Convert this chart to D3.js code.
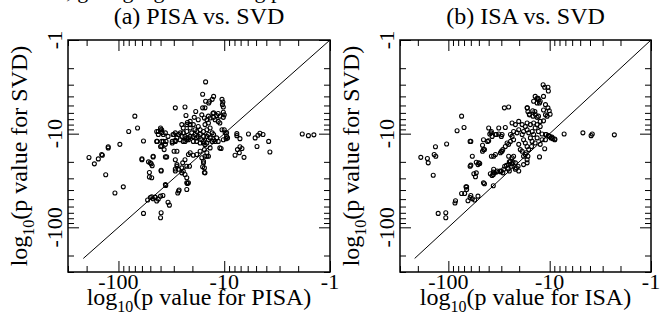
<!DOCTYPE html>
<html>
<head>
<meta charset="utf-8">
<script src="https://cdn.jsdelivr.net/npm/d3@7"></script>
<style>
  body { margin: 0; background: #fff; }
  svg { display: block; }
  text { font-family: "Liberation Serif", "Times New Roman", "DejaVu Serif", serif; fill: #000; }
</style>
</head>
<body>
<svg id="chart" width="672" height="327"></svg>
<script>
// chart values
const titles = ["(a) PISA vs. SVD", "(b) ISA vs. SVD"];
const methods = ["PISA", "ISA"];
const reference = "SVD";
const majorTicks = [-100, -10, -1];
const tickLabels = ["-100", "-10", "-1"];
const axisDomain = [-300, -1];
const diagonal = [-215, -1];
const captionText = "values, giving significant log p values for each of the modules";

// [log10 p for PISA, log10 p for SVD]
const pisaVsSvd = [
  [-15,-2.8],[-16,-3.8],[-12.6,-4.0],[-13,-4.3],[-13.8,-4.5],[-14,-4.7],[-15,-4.5],[-10.5,-4.3],[-10.3,-4.6],
  [-10.4,-4.9],[-10.2,-5.2],[-18.6,-5.8],[-16,-5.3],[-15.2,-5.3],[-12.6,-6.0],[-11.8,-6.4],[-10.2,-5.9],[-10,-6.3],
  [-29,-5.3],[-23.5,-5.2],[-70,-6.5],[-80,-9.5],[-66,-8.7],[-190,-18],[-169,-21],[-155,-18.6],[-142,-17],[-144,-16.7],
  [-125,-13.8],[-125,-14.2],[-97,-13],[-132,-27.5],[-90,-37],[-108,-43],[-60,-19],[-58,-12],[-52,-20],[-49,-21],
  [-48,-22],[-51,-26],[-51,-29],[-47,-17.7],[-39.5,-24.6],[-43.5,-9.5],[-40,-9.1],[-42,-10.2],[-39,-9.7],[-37.7,-10.2],
  [-43.5,-12.1],[-39,-12.1],[-35.5,-12.1],[-40,-13.7],[-37,-14.8],[-36,-17.7],[-35,-17.7],[-31,-12.1],[-29,-11.8],
  [-27,-10.2],[-26,-9.8],[-25,-10.7],[-28,-15.4],[-23.5,-12.1],[-22.6,-11.6],[-21.8,-11.1],[-23,-6.4],[-22.3,-7.6],
  [-22.6,-29.6],[-21.8,-33.5],[-22.6,-39.5],[-27,-41],[-36,-35],[-50,-48],[-45,-47.6],[-40,-46.5],[-38,-45.7],
  [-53,-51],[-48.5,-47.3],[-47,-49.6],[-45,-48],[-43.5,-52.4],[-42,-50],[-58,-71],[-39.5,-70],[-40,-79],[-34,-54],
  [-33,-58],[-35.7,-35.7],[-27.5,-43],[-26.7,-40],[-22.3,-34],
  [-7.6,-10],[-7.6,-10.5],[-7.1,-11.3],[-5.9,-10.1],[-5.1,-11.1],[-4.8,-10.4],[-4.6,-9.9],[-4.3,-10.2],[-3.8,-12.1],
  [-4.9,-13.7],[-3.7,-15.7],[-7.1,-13.8],[-6.8,-14.4],[-7.5,-14.8],[-7.2,-16],[-7.9,-17],[-6.5,-17.9],[-10.7,-14.4],
  [-1.83,-10.1],[-1.6,-10.5],[-1.42,-10.3],[-10,-9.1],[-9.5,-9.8],[-9.3,-11.1],[-9.6,-11.3],[-15.7,-19.7],[-16,-22.6],
  [-15.4,-26],[-14.6,-17.4],[-15.2,-17.4],[-40,-8.7],[-39,-9.1],[-42,-9.5],[-43,-12.1],[-37.7,-12.1],[-36,-13],
  [-39,-13.6],[-47,-17.4],[-50,-20.5],[-48.5,-29.6],
  [-15.4,-6.8],[-14.1,-6.5],[-12.8,-6.1],[-12.6,-6.7],[-11.4,-6.1],[-11,-6.5],[-10.2,-6.7],[-11.4,-7.4],[-11,-7.7],
  [-12.2,-7.1],[-13.6,-6.8],[-14.6,-7.1],[-17.6,-7.1],[-19.2,-6.7],[-16.3,-6.3],[-21,-7.4],
  [-22.6,-8.0],[-21,-8.7],[-20.3,-9.8],[-19.6,-10.7],[-18.2,-11.1],[-16.9,-10.2],[-15.7,-9.5],[-14.6,-9.1],[-13.6,-8.7],
  [-13,-9.8],[-12.6,-10.2],[-11.8,-11.1],[-11.4,-12.1],[-12.2,-12.1],[-14.1,-11.6],[-15.7,-12.1],[-16.9,-12.6],
  [-18.2,-12.1],[-19.6,-12.1],[-21.8,-11.6],[-23.5,-10.7],[-24.4,-9.8],[-22.6,-9.5],[-18.9,-9.1],[-17.6,-8.4],
  [-15.2,-8.0],[-14.1,-7.7],[-24.4,-8.7],[-25.2,-8.0],[-21,-8.0],[-19.6,-8.0],[-18.2,-9.5],[-16.9,-9.1],[-15.7,-10.7],
  [-14.6,-10.7],[-14.1,-10.2],[-13.6,-11.1],[-12.6,-11.6],[-13,-12.1],[-14.6,-12.6],[-15.2,-13.1],[-16.3,-11.6],
  [-17.6,-10.7],[-18.9,-10.2],[-21,-10.7],[-22.6,-11.1],[-24.4,-12.1],[-26.2,-11.6],[-28,-11.1],[-27,-10.2],[-30,-10.2],
  [-31,-12.6],[-29,-12.1],[-30.5,-10.2],[-29,-9.8],[-34,-10.7],[-36,-9.8],[-29,-19],[-28,-21.4],[-27,-24],
  [-29,-25],[-25.2,-23.2],[-24.7,-20.5],[-23.5,-19],[-21.8,-16.7],[-21,-16],[-19.6,-17],[-18.2,-16.7],[-16.9,-15.4],
  [-16.3,-18.1],[-15.7,-20.5],[-15.4,-23.2],[-15.2,-26.2],[-24.4,-25],[-25.2,-26.2],[-23.5,-27.3],[-22.6,-33.5],
  [-39.5,-25],[-10.5,-9.1],[-9.8,-9.8],[-9.5,-10.7],[-10.2,-11.6],[-11,-14.2],[-29.8,-15.4],[-29,-23.8],[-28,-22.3],
  [-22.6,-22.3],[-21.3,-22.3],[-15.7,-12.6],[-15.4,-14.8],[-14.6,-16],[-14.1,-17.4],[-13.6,-14.2],[-60,-18.6]
];

// [log10 p for ISA, log10 p for SVD]
const isaVsSvd = [
  [-11.6,-3.0],[-11.2,-3.2],[-10.4,-3.2],[-10.3,-3.5],[-13.9,-4.0],[-13.3,-4.2],[-12.9,-4.35],[-14.4,-4.5],[-13.3,-4.7],
  [-12.4,-4.5],[-11.5,-4.0],[-11,-4.9],[-10.4,-5.3],[-10.1,-5.7],[-11.5,-5.6],[-11,-6.3],[-9.9,-6.2],[-10.6,-6.5],
  [-16.7,-5.3],[-14.7,-5.7],[-15.9,-6.2],[-13.9,-6.2],[-13.3,-6.7],[-12.9,-6.5],[-28,-5.3],[-25.4,-5.2],[-74,-6.5],
  [-82,-9.3],[-70,-8.6],[-60,-12.1],[-187,-17.9],[-161,-18.4],[-158,-20.5],[-138,-16.7],[-133,-17.4],[-134,-13.8],
  [-104,-12.9],[-141,-27.8],[-66,-37],[-58,-17.4],[-61,-22.3],[-53,-20.2],[-51,-21.4],[-49,-20.8],[-53,-26.2],
  [-54,-28.9],[-44,-34.3],[-126,-71],[-106,-70],[-106,-79],[-86,-55],[-85,-52],[-74,-43.5],[-69,-43.5],[-66,-39.4],
  [-67,-37],[-64,-52],[-61,-48],[-60,-45.7],[-58,-49.6],[-55,-51],[-51,-46.5],[-36,-36],[-7.2,-10.1],[-4.7,-9.8],
  [-3.8,-10.1],[-3.9,-10.5],[-2.3,-10.3],[-11.2,-14.5],[-12.6,-17.7],[-9.3,-11.3],[-8.9,-11.4],
  [-40,-8.7],[-37.6,-9.5],[-39,-10.1],[-37,-10.7],[-34.3,-10.2],[-31.8,-10.1],[-29.5,-10.2],[-31.8,-8.7],[-27.4,-8.6],
  [-23.5,-7.7],[-21.8,-8.0],[-20.2,-7.4],[-18.7,-8.0],[-17.4,-8.4],[-16.7,-7.7],[-15.5,-8.0],[-14.4,-7.7],[-13.3,-8.0],
  [-12.4,-7.4],[-11.5,-7.3],[-12.4,-8.4],[-13.9,-8.7],[-14.9,-9.5],[-16.1,-9.8],[-16.7,-9.1],[-18.1,-9.5],[-20.2,-9.1],
  [-21,-9.8],[-22.7,-9.5],[-23.5,-10.7],[-24.4,-10.2],[-18.7,-10.2],[-18.1,-11.6],[-17.4,-12.6],[-16.7,-13.7],
  [-16.1,-14.8],[-17.1,-16],[-16.4,-17.4],[-15.5,-11.1],[-14.9,-12.1],[-15.1,-13.7],[-14.4,-10.2],[-13.3,-11.1],
  [-13.9,-12.6],[-12.9,-9.5],[-11.9,-10.1],[-11,-10.2],[-10.3,-10.5],[-9.5,-10.9],[-8.9,-11.6],[-11,-11.6],[-12.4,-13],
  [-11.9,-11.6],[-20.2,-13],[-19.5,-14.8],[-18.7,-15.4],[-18.1,-17.4],[-17.4,-16.7],[-16.7,-19],[-16.7,-20.5],
  [-18.1,-21.4],[-20.2,-25],[-21.8,-24],[-27.4,-13.7],[-26.3,-12.6],[-25.4,-13],[-24.4,-12.1],[-22.7,-11.6],[-30.6,-16],
  [-29.5,-15.4],[-37.6,-17.4],[-35.7,-17.4],[-34.3,-16.7],[-46,-13.3],[-45,-14.8],[-46,-15.4],[-41,-12.1],[-40,-11.9],
  [-60,-21.7],[-50,-20.5],[-25.4,-17.4],[-23.5,-18.1],[-22.7,-17.4],[-24.4,-19.7],[-21.8,-20.5],[-35.7,-24],[-35,-26.2],
  [-33,-25],[-30.6,-25.5],[-28.4,-24],[-27.8,-22.3],[-25.4,-21.4],[-25,-20],[-23.5,-21],[-56,-26.8],[-38.5,-26.8],
  [-37,-28],[-45,-33.5],[-38,-9.8],[-33.6,-10.2],[-30,-10.7],[-26.7,-21.8],[-25.7,-23.7],[-25,-25],[-24,-22.3],
  [-23,-20.2],[-36,-25.7],[-36,-27.3],[-33.6,-25.7],[-31,-25],[-30,-25],[-29,-26.2],[-21.3,-23.2],[-20.5,-22.3],
  [-61,-12.1],[-45,-11.6],[-44,-14.8],[-29,-14.8],[-30,-15.4],[-14.6,-6.5],[-14,-5.8],[-16.6,-5.3],[-16.4,-5.8],
  [-15.8,-6.3],[-12.6,-4.7],[-13,-4.2],[-10.8,-10.2],[-10,-10.7],[-9.7,-11.1]
];

const svg = d3.select("#chart");
const plotTop = 40, plotBottom = 272;

// cut-off caption line from the page above the figure
svg.append("text")
  .attr("x", 10).attr("y", -2)
  .style("font-size", "22px")
  .text(captionText);

const panels = [
  { data: pisaVsSvd, title: titles[0], method: methods[0], left: 68, right: 330 },
  { data: isaVsSvd, title: titles[1], method: methods[1], left: 400, right: 651 }
];

panels.forEach(p => {
  const g = svg.append("g");
  const x = d3.scaleLog().domain(axisDomain).range([p.left, p.right]);
  const y = d3.scaleLog().domain([axisDomain[1], axisDomain[0]]).range([plotTop, plotBottom]);
  const cx = (p.left + p.right) / 2;

  const minorX = x.ticks().filter(t => !majorTicks.includes(t));
  const minorY = y.ticks().filter(t => !majorTicks.includes(t));

  // ticks on all four sides, pointing inward, two lengths
  const axes = [
    [d3.axisBottom(x), `translate(0,${plotBottom})`, minorX],
    [d3.axisTop(x), `translate(0,${plotTop})`, minorX],
    [d3.axisLeft(y), `translate(${p.left},0)`, minorY],
    [d3.axisRight(y), `translate(${p.right},0)`, minorY]
  ];
  axes.forEach(([axis, tr, minor]) => {
    [[minor, -6], [majorTicks, -11]].forEach(([vals, size]) => {
      const a = g.append("g")
        .attr("transform", tr)
        .call(axis.tickValues(vals).tickSize(size).tickFormat(""));
      a.select(".domain").remove();
      a.selectAll("line").attr("stroke", "#000").attr("stroke-width", 1);
    });
  });

  g.append("rect")
    .attr("x", p.left).attr("y", plotTop)
    .attr("width", p.right - p.left).attr("height", plotBottom - plotTop)
    .attr("fill", "none").attr("stroke", "#000").attr("stroke-width", 1.5);

  // y = x reference line
  g.append("line")
    .attr("x1", x(diagonal[0])).attr("y1", y(diagonal[0]))
    .attr("x2", x(diagonal[1])).attr("y2", y(diagonal[1]))
    .attr("stroke", "#000").attr("stroke-width", 1);

  g.selectAll("circle")
    .data(p.data)
    .enter()
    .append("circle")
    .attr("cx", d => x(d[0]))
    .attr("cy", d => y(d[1]))
    .attr("r", 2)
    .attr("fill", "none")
    .attr("stroke", "#000")
    .attr("stroke-width", 1.1);

  // tick labels
  g.selectAll(".xl")
    .data(majorTicks)
    .enter()
    .append("text")
    .attr("x", d => x(d))
    .attr("y", 289)
    .attr("text-anchor", "middle")
    .style("font-size", "22px")
    .text((d, i) => tickLabels[i]);

  g.selectAll(".yl")
    .data(majorTicks)
    .enter()
    .append("text")
    .attr("transform", d => `translate(${p.left - 6.5},${y(d)}) rotate(-90)`)
    .attr("text-anchor", "middle")
    .style("font-size", "22px")
    .text((d, i) => tickLabels[i]);

  g.append("text")
    .attr("x", cx).attr("y", 24)
    .attr("text-anchor", "middle")
    .style("font-size", "24px")
    .text(p.title);

  const xl = g.append("text")
    .attr("x", cx).attr("y", 305)
    .attr("text-anchor", "middle")
    .style("font-size", "24px");
  xl.append("tspan").text("log");
  xl.append("tspan").attr("dy", 7).style("font-size", "16px").text("10");
  xl.append("tspan").attr("dy", -7).text(`(p value for ${p.method})`);

  const yl = g.append("text")
    .attr("transform", `translate(${p.left - 41},${(plotTop + plotBottom) / 2}) rotate(-90)`)
    .attr("text-anchor", "middle")
    .style("font-size", "24px");
  yl.append("tspan").text("log");
  yl.append("tspan").attr("dy", 7).style("font-size", "16px").text("10");
  yl.append("tspan").attr("dy", -7).text(`(p value for ${reference})`);
});
</script>
</body>
</html>
